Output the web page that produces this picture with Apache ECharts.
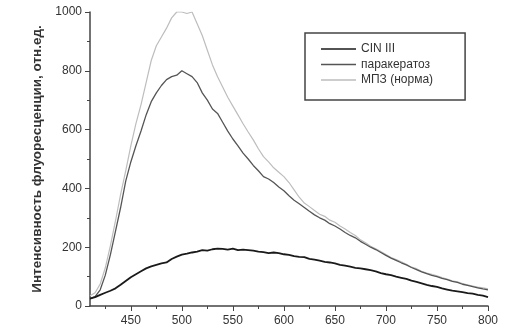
<!DOCTYPE html>
<html><head><meta charset="utf-8">
<script src="https://cdn.jsdelivr.net/npm/echarts@6/dist/echarts.min.js"></script>
<style>html,body{margin:0;padding:0;background:#fff}#c{width:532px;height:334px}</style>
</head><body><div id="c"></div>
<script>
var wavelengths = [410,415,420,425,430,435,440,445,450,455,460,465,470,475,480,485,490,495,500,505,510,515,520,525,530,535,540,545,550,555,560,565,570,575,580,585,590,595,600,605,610,615,620,625,630,635,640,645,650,655,660,665,670,675,680,685,690,695,700,705,710,715,720,725,730,735,740,745,750,755,760,765,770,775,780,785,790,795,800];
var cin3 = [25,30,38,45,52,60,72,85,98,108,118,128,135,140,145,148,160,168,175,178,182,185,190,188,193,195,194,192,195,190,192,190,188,185,183,180,182,180,176,174,170,167,166,160,158,154,150,148,145,140,137,134,130,128,125,122,118,112,108,105,100,96,92,86,82,77,72,68,65,60,56,52,50,47,44,42,38,35,30];
var parakeratosis = [25,32,55,105,175,255,335,425,490,545,595,650,695,725,750,770,780,785,800,790,780,760,725,700,670,655,625,595,568,545,520,500,478,460,440,432,420,405,392,375,360,348,335,322,310,300,292,280,272,262,250,240,232,220,210,200,192,182,172,163,155,147,140,131,124,116,110,104,100,94,90,84,80,74,70,66,62,58,55];
var normMPZ = [35,45,75,130,205,290,380,460,545,620,685,760,835,885,915,945,980,1000,1000,995,1000,960,920,870,820,780,745,710,680,650,620,592,565,535,508,490,470,455,440,420,395,370,350,338,325,312,305,292,285,272,262,250,240,225,215,203,195,185,175,165,158,150,142,132,127,118,112,108,103,97,92,86,82,76,72,68,64,62,58];
var seriesNames = ['CIN III','паракератоз','МПЗ (норма)'];
var xMajorTicks = [450,500,550,600,650,700,750,800];
var xMinorTicks = [425,475,525,575,625,675,725,775];
var yAxisName = 'Интенсивность флуоресценции, отн.ед.';

function pairs(ys){ return wavelengths.map(function(x,i){ return [x, ys[i]]; }); }

var chart = echarts.init(document.getElementById('c'), null, {renderer:'canvas'});
var axisCol = '#444';
chart.setOption({
  backgroundColor:'#fff',
  animation:false,
  grid:{left:90, right:44, top:12, bottom:28},
  legend:{
    orient:'vertical', left:305, top:33,
    padding:[9,32,13,16], itemGap:1.5, itemWidth:35, itemHeight:1.6, icon:'rect',
    borderColor:'#444', borderWidth:1.5,
    textStyle:{fontFamily:'Liberation Sans, Arial', fontSize:12, color:'#333', lineHeight:14},
    data:seriesNames
  },
  xAxis:[{
    type:'value', min:410, max:800,
    axisLine:{show:true, onZero:false, lineStyle:{color:axisCol, width:1.5}},
    axisTick:{show:true, customValues:xMajorTicks, length:5, lineStyle:{color:axisCol}},
    axisLabel:{customValues:xMajorTicks, margin:9, fontFamily:'Liberation Sans, Arial', fontSize:12, color:'#333'},
    splitLine:{show:false}
  },{
    type:'value', min:410, max:800, position:'bottom',
    axisLine:{show:false},
    axisTick:{show:true, customValues:xMinorTicks, length:3, lineStyle:{color:axisCol}},
    axisLabel:{show:false}, splitLine:{show:false}
  }],
  yAxis:{
    type:'value', min:0, max:1000, interval:200,
    name:yAxisName, nameLocation:'middle', nameGap:43,
    nameTextStyle:{fontFamily:'Liberation Sans, Arial', fontSize:13.5, fontWeight:'bold', color:'#333'},
    axisLine:{show:true, lineStyle:{color:axisCol, width:1.5}},
    axisTick:{show:true, length:5, lineStyle:{color:axisCol}},
    minorTick:{show:true, splitNumber:2, length:3, lineStyle:{color:axisCol}},
    axisLabel:{margin:8, fontFamily:'Liberation Sans, Arial', fontSize:12, color:'#333', formatter:function(v){return String(v);}},
    splitLine:{show:false}
  },
  series:[
    {name:seriesNames[2], type:'line', data:pairs(normMPZ), symbol:'none', lineStyle:{color:'#bdbdbd', width:1.2}, itemStyle:{color:'#bdbdbd'}, z:2},
    {name:seriesNames[1], type:'line', data:pairs(parakeratosis), symbol:'none', lineStyle:{color:'#555', width:1.3}, itemStyle:{color:'#555'}, z:3},
    {name:seriesNames[0], type:'line', data:pairs(cin3), symbol:'none', lineStyle:{color:'#1a1a1a', width:1.8}, itemStyle:{color:'#1a1a1a'}, z:4}
  ]
});
</script></body></html>
